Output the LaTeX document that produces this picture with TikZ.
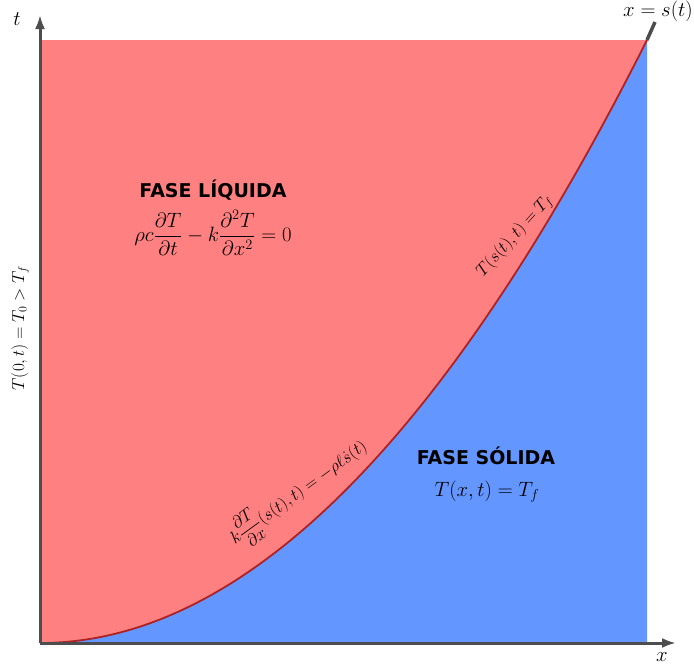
\documentclass[tikz,border=0pt]{standalone}
\usepackage{fontspec}
\usepackage{amsmath}
\newfontfamily\labfont[Scale=1]{DejaVu Sans}
\usetikzlibrary{arrows.meta}
\definecolor{liq}{HTML}{FF8080}
\definecolor{sol}{HTML}{6496FF}
\definecolor{axisgray}{HTML}{4D4D4D}
\definecolor{curvered}{HTML}{B02222}
\begin{document}
\begin{tikzpicture}[x=1pt,y=-1pt,
  axisline/.style={draw=axisgray,line width=3pt,-{Latex[length=14pt,width=10pt]}},
  phase/.style={font=\labfont\bfseries\fontsize{19}{22}\selectfont,inner sep=0pt},
  bigmath/.style={font=\fontsize{21}{25}\selectfont,inner sep=0pt},
  smallmath/.style={font=\fontsize{16.5}{20}\selectfont,inner sep=0pt},
  axlabel/.style={font=\fontsize{20}{24}\selectfont,inner sep=0pt}]
\useasboundingbox (0,0) rectangle (694,670);
\coordinate (O) at (40,643);
\coordinate (Top) at (40,15);
\coordinate (Right) at (676,643);
\coordinate (S) at (647,40);
\coordinate (Sx) at (655,22);
% fills
\fill[liq] (40,40) rectangle (647,643);
\fill[sol] (O) .. controls (242.3,643) and (444.7,442) .. (S) -- (647,643) -- cycle;
% interface
\draw[curvered,line width=1.8pt] (O) .. controls (242.3,643) and (444.7,442) .. (S);
\draw[axisgray,line width=3.5pt] (S) -- (Sx);
% axes
\draw[axisline] (O) -- (Top);
\draw[axisline] (O) -- (Right);
\node[axlabel] (tl) at (17,19) {$t$};
\node[axlabel] (xl) at (662,657) {$x$};
\node[axlabel,anchor=base east] (sl) at (693,16) {$x=s(t)$};
% phases
\node[phase] (liqt) at (213,190) {FASE LÍQUIDA};
\node[bigmath] (liqe) at (213,233) {$\displaystyle \rho c\frac{\partial T}{\partial t}-k\frac{\partial^2 T}{\partial x^2}=0$};
\node[phase] (solt) at (486,456) {FASE SÓLIDA};
\node[bigmath] (sole) at (487,492) {$T(x,t)=T_f$};
% boundary labels
\node[smallmath,rotate=90] (bc) at (20,328) {$T(0,t)=T_0>T_f$};
\node[smallmath,rotate=48] (ic) at (515,236) {$T(s(t),t)=T_f$};
\node[font=\fontsize{16.5}{20}\selectfont,inner sep=0pt,rotate=36] (st) at (298,492) {$k\dfrac{\partial T}{\partial x}(s(t),t)=-\rho\ell\dot{s}(t)$};
\end{tikzpicture}
\end{document}
